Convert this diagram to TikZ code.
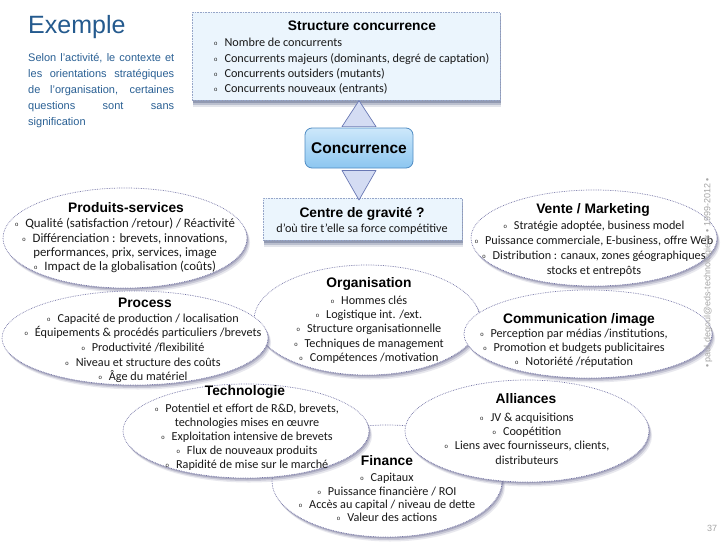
\documentclass[tikz,border=0pt]{standalone}
\usepackage{fontspec}
\setmainfont{Carlito}
\newfontfamily\hf{Liberation Sans}
\usetikzlibrary{shapes.geometric,shadows,calc}
\definecolor{ttlblue}{RGB}{36,90,142}
\definecolor{parblue}{RGB}{42,96,148}
\definecolor{boxfill}{RGB}{235,245,253}
\definecolor{boxline}{RGB}{150,165,200}
\definecolor{boxshad}{RGB}{70,85,125}
\definecolor{ellline}{RGB}{115,115,165}
\definecolor{ellshad}{RGB}{105,105,145}
\definecolor{trifill}{RGB}{212,220,243}
\definecolor{triline}{RGB}{105,120,180}
\definecolor{concline}{RGB}{80,140,195}
\definecolor{conctop}{RGB}{205,232,251}
\definecolor{concbot}{RGB}{140,198,240}
\definecolor{wmgray}{RGB}{165,165,165}
\newcommand\bu{\raisebox{0.8pt}{\hf\fontsize{6}{6}\selectfont o}\hspace{7pt}}
\tikzset{
  softshadow/.style={
    general shadow={shadow xshift=3pt, shadow yshift=-4.5pt, fill=ellshad, opacity=0.15},
    general shadow={shadow xshift=2pt, shadow yshift=-3pt, fill=ellshad, opacity=0.25},
    general shadow={shadow xshift=1pt, shadow yshift=-1.5pt, fill=ellshad, opacity=0.35}},
  boxshadow/.style={
    general shadow={shadow xshift=1pt, shadow yshift=-7pt, fill=boxshad, opacity=0.15},
    general shadow={shadow xshift=1pt, shadow yshift=-5pt, fill=boxshad, opacity=0.25},
    general shadow={shadow xshift=0.5pt, shadow yshift=-2.5pt, fill=boxshad, opacity=0.35}},
  ell/.style={ellipse, draw=ellline, densely dotted, line width=0.7pt, fill=white, inner sep=0pt, softshadow},
  sbox/.style={rectangle, draw=boxline, densely dotted, line width=0.6pt, fill=boxfill, inner sep=0pt, boxshadow},
  concbox/.style={rectangle, rounded corners=7pt, draw=concline, line width=0.8pt, top color=conctop, bottom color=concbot, inner sep=0pt, font=\hf\bfseries\fontsize{15.5}{16}\selectfont},
  tri/.style={draw=triline, line width=0.7pt, fill=trifill, line join=round},
  ttl/.style={font=\hf\bfseries\fontsize{13.8}{14}\selectfont, anchor=base, inner sep=0pt},
  txt/.style={font=\fontsize{12.2}{13}\selectfont, anchor=base, inner sep=0pt, text=black!90},
  bigtxt/.style={txt, font=\fontsize{12.8}{13}\selectfont},
  ltxt/.style={txt, anchor=base west},
}
\begin{document}
\begin{tikzpicture}[x=1pt,y=-1pt]
\useasboundingbox (0,0) rectangle (728,546);
\fill[white] (0,0) rectangle (728,546);

% title and paragraph
\node[anchor=base west, inner sep=0pt, text=ttlblue, font=\hf\fontsize{25}{25}\selectfont] (titre) at (28,33) {Exemple};
\node[anchor=base west, inner sep=0pt, text=parblue, font=\hf\fontsize{11}{16}\selectfont] (para) at (28,61)
 {\parbox[t]{146pt}{\makebox[146pt][s]{Selon l’activité, le contexte et}\\
 \makebox[146pt][s]{les orientations stratégiques}\\
 \makebox[146pt][s]{de l’organisation, certaines}\\
 \makebox[146pt][s]{questions sont sans}\\
 signification}};

% structure concurrence
\node[sbox, anchor=north west, minimum width=308pt, minimum height=88pt] (struct) at (192,12) {};
\node[ttl] (struct-t) at (362,30) {Structure concurrence};
\foreach \yy/\mytext [count=\i] in {46/{Nombre de concurrents}, 62/{Concurrents majeurs (dominants, degré de captation)}, 77/{Concurrents outsiders (mutants)}, 92/{Concurrents nouveaux (entrants)}}
  \node[ltxt] (struct-\i) at (214,\yy) {\bu\mytext};

% concurrence
\node[concbox, minimum width=108pt, minimum height=40pt] (conc) at (359,148) {Concurrence};
\node[sbox, anchor=north west, minimum width=199pt, minimum height=42pt] (cent) at (263,198) {};
\node[ttl] (cent-t) at (362,217) {Centre de gravité ?};
\node[txt] (cent-s) at (362,232) {d’où tire t’elle sa force compétitive};
\draw[tri] (struct.south -| conc.north) -- ($(conc.north)+(17,-1)$) -- ($(conc.north)+(-17,-1)$) -- cycle;
\draw[tri] ($(conc.south)+(-17,2)$) -- ($(conc.south)+(17,2)$) -- ($(cent.north -| conc.south)+(0,2)$) -- cycle;

% Organisation
\node[ell, minimum width=226pt, minimum height=110pt] (org) at (367,320) {};
\node[ttl] (org-t) at (369,287) {Organisation};
\foreach \yy/\mytext [count=\i] in {304/{Hommes clés}, 318/{Logistique int. /ext.}, 332/{Structure organisationnelle}, 347/{Techniques de management}, 361/{Compétences /motivation}}
  \node[txt] (org-\i) at (369,\yy) {\bu\mytext};

% Produits-services
\node[ell, minimum width=244pt, minimum height=100pt] (prod) at (125,238) {};
\node[ttl] (prod-t) at (126,212) {Produits-services};
\foreach \yy/\mytext [count=\i] in {227/{\bu Qualité (satisfaction /retour) / Réactivité}, 242/{\bu Différenciation : brevets, innovations,}, 256/{performances, prix, services, image}, 270/{\bu Impact de la globalisation (coûts)}}
  \node[bigtxt] (prod-\i) at (125,\yy) {\mytext};

% Vente / Marketing
\node[ell, minimum width=246pt, minimum height=96pt] (vente) at (594,238) {};
\node[ttl] (vente-t) at (593,213) {Vente / Marketing};
\foreach \yy/\mytext [count=\i] in {229/{\bu Stratégie adoptée, business model}, 244/{\bu Puissance commerciale, E-business, offre Web}, 259/{\bu Distribution : canaux, zones géographiques}, 274/{stocks et entrepôts}}
  \node[txt] (vente-\i) at (594,\yy) {\mytext};

% Communication
\node[ell, minimum width=248pt, minimum height=88pt] (comm) at (588,334) {};
\node[ttl] (comm-t) at (579,323) {Communication /image};
\foreach \yy/\mytext [count=\i] in {337/{Perception par médias /institutions,}, 351/{Promotion et budgets publicitaires}, 365/{Notoriété /réputation}}
  \node[txt] (comm-\i) at (574,\yy) {\bu\mytext};

% Process
\node[ell, minimum width=266pt, minimum height=94pt] (proc) at (135,338) {};
\node[ttl] (proc-t) at (145,307) {Process};
\foreach \yy/\mytext [count=\i] in {322/{Capacité de production / localisation}, 336/{Équipements \& procédés particuliers /brevets}, 351/{Productivité /flexibilité}, 366/{Niveau et structure des coûts}, 380/{Âge du matériel}}
  \node[txt] (proc-\i) at (143,\yy) {\bu\mytext};

% Finance
\node[ell, minimum width=230pt, minimum height=112pt] (fin) at (387,481) {};
\node[ttl] (fin-t) at (387,465) {Finance};
\foreach \yy/\mytext [count=\i] in {481/{Capitaux}, 495/{Puissance financière / ROI}, 508/{Accès au capital / niveau de dette}, 521/{Valeur des actions}}
  \node[txt] (fin-\i) at (387,\yy) {\bu\mytext};

% Alliances
\node[ell, minimum width=244pt, minimum height=102pt] (all) at (527,431) {};
\node[ttl] (all-t) at (526,403) {Alliances};
\foreach \yy/\mytext [count=\i] in {421/{\bu JV \& acquisitions}, 435/{\bu Coopétition}, 449/{\bu Liens avec fournisseurs, clients,}, 464/{distributeurs}}
  \node[txt] (all-\i) at (527,\yy) {\mytext};

% Technologie
\node[ell, minimum width=246pt, minimum height=94pt] (tech) at (246,431) {};
\node[ttl] (tech-t) at (245,395) {Technologie};
\foreach \yy/\mytext [count=\i] in {412/{\bu Potentiel et effort de R\&D, brevets,}, 426/{technologies mises en œuvre}, 440/{\bu Exploitation intensive de brevets}, 454/{\bu Flux de nouveaux produits}, 468/{\bu Rapidité de mise sur le marché}}
  \node[txt] (tech-\i) at (247,\yy) {\mytext};

% watermark and page number
\node[rotate=90, inner sep=0pt, text=wmgray, font=\hf\fontsize{9}{9}\selectfont] (wm) at (708,273) {• paul.degoul@eds-technologie.fr • 1999-2012 •};
\node[inner sep=0pt, text=wmgray, font=\hf\fontsize{9}{9}\selectfont] (page) at (712,528) {37};
\end{tikzpicture}
\end{document}
